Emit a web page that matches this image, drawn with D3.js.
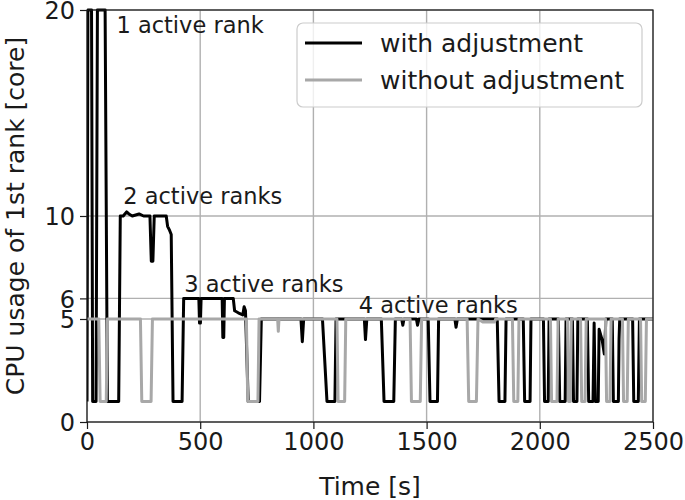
<!DOCTYPE html>
<html>
<head>
<meta charset="utf-8">
<script src="https://cdn.jsdelivr.net/npm/d3@7"></script>
<style>
  body { margin: 0; background: white; }
  text { font-family: 'DejaVu Sans', sans-serif; fill: #1a1a1a; }
  .grid line { stroke: #b0b0b0; stroke-width: 1.4; }
  .axis path, .axis line { stroke: #1a1a1a; stroke-width: 1.2; }
</style>
</head>
<body>
<svg id="chart"></svg>
<script>
var width = 685, height = 500;
var margin = {top: 10, right: 32, bottom: 78, left: 87};
var innerW = width - margin.left - margin.right;
var innerH = height - margin.top - margin.bottom;

// data: [time (s), cpu (core)]
var withAdjustment = [
  [0,1],[4,20],[20,20],[25,1],[40,1],[46,20],[80,20],[90,1],[140,1],[147,10],
  [160,10],[175,10.2],[185,10.1],[200,10],[230,10.1],[250,10],[278,10],[284,7.8],[291,7.8],[297,10],
  [350,10],[356,9.5],[365,9.3],[372,9.1],[380,1],[420,1],[427,6],[494,6],[497,4.8],[501,4.8],[504,6],
  [597,6],[600,4.1],[604,4.1],[607,6],[646,6],[652,5.4],[668,5.3],[688,5.2],[694,5.6],[700,5.4],
  [712,1],[762,1],[770,5],[945,5],[951,3.9],[957,5],[1040,5],[1060,1],[1095,1],[1100,5],
  [1225,5],[1230,4],[1236,5],[1300,5],[1312,1],[1355,1],[1362,5],[1390,5],[1395,4.7],[1400,5],
  [1455,5],[1460,4.7],[1466,5],[1507,5],[1515,1],[1548,1],[1553,5],[1625,5],[1630,4.6],[1636,5],
  [1812,5],[1820,1],[1846,1],[1851,5],[1927,5],[1933,1],[1957,1],[1961,5],[2016,5],[2021,1],
  [2037,1],[2041,5],[2082,5],[2088,1],[2112,1],[2116,5],[2144,5],[2149,1],[2164,1],[2168,5],
  [2210,5],[2216,1],[2235,1],[2240,4.8],[2245,1],[2258,1],[2262,4.5],[2275,4],[2285,3.3],[2292,5],
  [2320,5],[2325,1],[2347,1],[2350,4],[2353,5],[2410,5],[2415,1],[2435,1],[2440,5],[2500,5]
];
var withoutAdjustment = [
  [0,5],[52,5],[58,1],[85,1],[90,5],[236,5],[242,1],[283,1],[289,5],[704,5],[710,1],[755,1],
  [760,5],[842,5],[845,4.4],[848,5],[1104,5],[1109,1],[1138,1],[1143,5],[1427,5],[1433,1],
  [1472,1],[1478,5],[1679,5],[1686,1],[1720,1],[1727,5],[1750,4.85],[1800,4.85],[1805,5],
  [1879,5],[1885,1],[1903,1],[1908,5],[2047,5],[2052,1],[2076,1],[2081,5],[2122,5],[2127,1],
  [2135,1],[2139,5],[2180,5],[2185,1],[2200,1],[2205,5],[2290,5],[2295,1],[2310,1],[2315,5],
  [2365,5],[2370,1],[2386,1],[2391,5],[2445,5],[2450,1],[2466,1],[2471,5],[2500,5]
];
var xTicks = [0, 500, 1000, 1500, 2000, 2500];
var yTicks = [0, 5, 6, 10, 20];
var annotations = [
  {text: "1 active rank", t: 130, v: 18.9},
  {text: "2 active ranks", t: 160, v: 10.6},
  {text: "3 active ranks", t: 430, v: 6.3},
  {text: "4 active ranks", t: 1200, v: 5.3}
];
var seriesNames = ["with adjustment", "without adjustment"];
var seriesColors = ["#000000", "#a8a8a8"];

var svg = d3.select("#chart").attr("width", width).attr("height", height);
var g = svg.append("g").attr("transform", "translate(" + margin.left + "," + margin.top + ")");

var x = d3.scaleLinear().domain([0, 2500]).range([0, innerW]);
var y = d3.scaleLinear().domain([0, 20]).range([innerH, 0]);

// grid
g.append("g").attr("class", "grid")
  .selectAll("line").data(xTicks).enter().append("line")
  .attr("x1", d => x(d)).attr("x2", d => x(d)).attr("y1", 0).attr("y2", innerH);
g.append("g").attr("class", "grid")
  .selectAll("line").data(yTicks).enter().append("line")
  .attr("y1", d => y(d)).attr("y2", d => y(d)).attr("x1", 0).attr("x2", innerW);

// lines
g.append("clipPath").attr("id", "clip").append("rect")
  .attr("x", 0).attr("y", -2).attr("width", innerW).attr("height", innerH + 2);
var line = d3.line().x(d => x(d[0])).y(d => y(d[1]));
[withAdjustment, withoutAdjustment].forEach(function(data, i) {
  g.append("path").datum(data)
    .attr("clip-path", "url(#clip)")
    .attr("fill", "none")
    .attr("stroke", seriesColors[i])
    .attr("stroke-width", 3)
    .attr("stroke-linejoin", "round")
    .attr("d", line);
});

// frame
g.append("rect").attr("width", innerW).attr("height", innerH)
  .attr("fill", "none").attr("stroke", "#1a1a1a").attr("stroke-width", 1.2);

// axes
var xAxis = g.append("g").attr("class", "axis")
  .attr("transform", "translate(0," + innerH + ")")
  .call(d3.axisBottom(x).tickValues(xTicks).tickFormat(d3.format("d")).tickSize(7).tickPadding(4));
var yAxis = g.append("g").attr("class", "axis")
  .call(d3.axisLeft(y).tickValues(yTicks).tickFormat(d3.format("d")).tickSize(7).tickPadding(5));
xAxis.select(".domain").remove();
yAxis.select(".domain").remove();
g.selectAll(".axis text").style("font-size", "24px").attr("fill", "#1a1a1a")
  .style("font-family", "'DejaVu Sans', sans-serif");
yAxis.selectAll("text").attr("dy", "0.36em");

// axis labels
svg.append("text")
  .attr("x", margin.left + innerW / 2).attr("y", 495)
  .attr("text-anchor", "middle").style("font-size", "25px")
  .text("Time [s]");
svg.append("text")
  .attr("transform", "translate(24," + (margin.top + innerH / 2) + ") rotate(-90)")
  .attr("text-anchor", "middle").style("font-size", "25px")
  .text("CPU usage of 1st rank [core]");

// annotations
g.selectAll(".ann").data(annotations).enter().append("text")
  .attr("x", d => x(d.t)).attr("y", d => y(d.v))
  .style("font-size", "22.5px")
  .text(d => d.text);

// legend
var legend = g.append("g").attr("transform", "translate(" + (297 - margin.left) + "," + (23 - margin.top) + ")");
legend.append("rect").attr("width", 345).attr("height", 84).attr("rx", 6)
  .attr("fill", "white").attr("fill-opacity", 0.8)
  .attr("stroke", "#cccccc").attr("stroke-width", 1.2);
seriesNames.forEach(function(name, i) {
  var yy = 20 + i * 37;
  legend.append("line").attr("x1", 8).attr("x2", 65).attr("y1", yy).attr("y2", yy)
    .attr("stroke", seriesColors[i]).attr("stroke-width", 3);
  legend.append("text").attr("x", 83).attr("y", yy + 9)
    .style("font-size", "25px").text(name);
});
</script>
</body>
</html>
